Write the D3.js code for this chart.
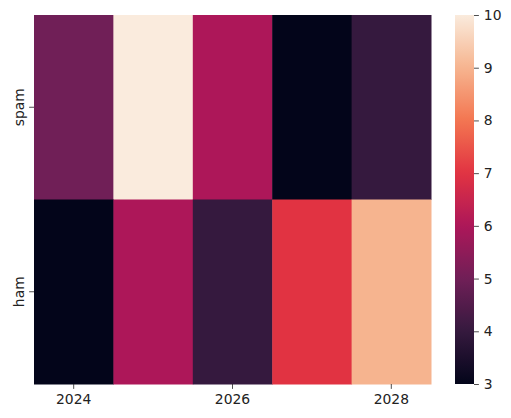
<!DOCTYPE html>
<html>
<head>
<meta charset="utf-8">
<script src="https://cdn.jsdelivr.net/npm/d3@7"></script>
<style>
  body { margin: 0; background: #fff; }
  text { font-family: "DejaVu Sans", sans-serif; fill: #222; }
</style>
</head>
<body>
<script>
const years = [2024, 2025, 2026, 2027, 2028];
const rows = ["spam", "ham"];
const spam = [5, 10, 6, 3, 4];
const ham = [3, 6, 4, 7, 9];
const xTickYears = [2024, 2026, 2028];
const cbarTicks = [3, 4, 5, 6, 7, 8, 9, 10];

const values = { spam: spam, ham: ham };
const cells = [];
rows.forEach(r => years.forEach((y, i) => cells.push({ row: r, year: y, value: values[r][i] })));

// seaborn "rocket" sampled
const rocket = ["#03051a", "#35193e", "#701f57", "#ad1759", "#e13342", "#f37651", "#f6b48f", "#faebdd"];
const vmin = 3, vmax = 10;
const color = d3.scaleLinear()
  .domain(d3.range(rocket.length).map(i => vmin + i * (vmax - vmin) / (rocket.length - 1)))
  .range(rocket)
  .interpolate(d3.interpolateRgb);

const W = 511, H = 418;
const mLeft = 34, mRight = 431, mTop = 15, mBottom = 384;

const svg = d3.select("body").append("svg")
  .attr("width", W).attr("height", H);

const x = d3.scaleBand().domain(years).range([mLeft, mRight]);
const y = d3.scaleBand().domain(rows).range([mTop, mBottom]);

svg.append("g").selectAll("rect")
  .data(cells)
  .enter().append("rect")
  .attr("x", d => x(d.year))
  .attr("y", d => y(d.row))
  .attr("width", x.bandwidth() + 0.5)
  .attr("height", y.bandwidth() + 0.5)
  .attr("fill", d => color(d.value));

const fs = "13.9px";

const xAxis = svg.append("g")
  .attr("transform", "translate(0," + mBottom + ")")
  .call(d3.axisBottom(x).tickValues(xTickYears).tickSize(4.9).tickPadding(4.9));
xAxis.select(".domain").remove();
xAxis.selectAll("text").style("font-size", fs).attr("fill", "#222");
xAxis.selectAll("line").attr("stroke", "#222").attr("stroke-width", 0.8);

const yAxis = svg.append("g")
  .attr("transform", "translate(" + mLeft + ",0)")
  .call(d3.axisLeft(y).tickSize(4.9).tickPadding(0));
yAxis.select(".domain").remove();
yAxis.selectAll("line").attr("stroke", "#222").attr("stroke-width", 0.8);
yAxis.selectAll("text")
  .style("font-size", fs)
  .attr("fill", "#222")
  .attr("x", 0).attr("dy", 0)
  .attr("text-anchor", "middle")
  .attr("transform", "translate(-10,0) rotate(-90)");

// colorbar
const cbX = 455, cbW = 19;
const cbScale = d3.scaleLinear().domain([vmin, vmax]).range([mBottom, mTop]);
const grad = svg.append("defs").append("linearGradient")
  .attr("id", "cbar").attr("x1", 0).attr("y1", 1).attr("x2", 0).attr("y2", 0);
grad.selectAll("stop")
  .data(d3.range(0, 1.0001, 0.02))
  .enter().append("stop")
  .attr("offset", d => d)
  .attr("stop-color", d => color(vmin + d * (vmax - vmin)));

svg.append("rect")
  .attr("x", cbX).attr("y", mTop)
  .attr("width", cbW).attr("height", mBottom - mTop)
  .attr("fill", "url(#cbar)");

const cAxis = svg.append("g")
  .attr("transform", "translate(" + (cbX + cbW) + ",0)")
  .call(d3.axisRight(cbScale).tickValues(cbarTicks).tickSize(4.9).tickPadding(4.9).tickFormat(d3.format("d")));
cAxis.select(".domain").remove();
cAxis.selectAll("text").style("font-size", fs).attr("fill", "#222");
cAxis.selectAll("line").attr("stroke", "#222").attr("stroke-width", 0.8);
</script>
</body>
</html>
